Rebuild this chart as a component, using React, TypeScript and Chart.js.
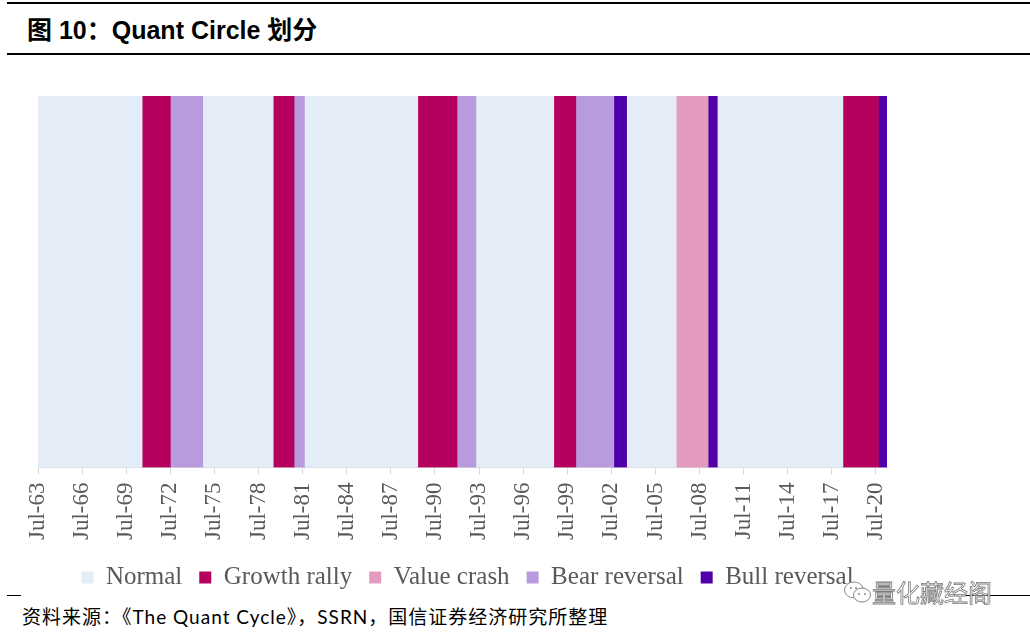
import React, { useEffect, useRef } from "react";
import { Chart, registerables } from "chart.js";

Chart.register(...registerables);

// ---- data ----
const startMonth = "1963-07";
const endMonth = "2021-03";
const monthNames = ["Jan", "Feb", "Mar", "Apr", "May", "Jun", "Jul", "Aug", "Sep", "Oct", "Nov", "Dec"];
const regimeNames = ["Normal", "Growth rally", "Value crash", "Bear reversal", "Bull reversal"];
const regimeColors = ["#E4ECF7", "#B5005E", "#E29BBF", "#B79BDC", "#5100A9"];
const growthRallyPeriods = [
  ["1970-08", "1972-06"],
  ["1979-07", "1980-11"],
  ["1989-05", "1991-12"],
  ["1998-08", "2000-01"],
  ["2018-04", "2020-08"],
];
const valueCrashPeriods = [["2006-12", "2009-01"]];
const bearReversalPeriods = [
  ["1972-07", "1974-09"],
  ["1980-12", "1981-08"],
  ["1992-01", "1993-04"],
  ["2000-02", "2002-08"],
];
const bullReversalPeriods = [
  ["2002-09", "2003-07"],
  ["2009-02", "2009-09"],
  ["2020-09", "2021-03"],
];
const tickLabels = [
  "Jul-63", "Jul-66", "Jul-69", "Jul-72", "Jul-75", "Jul-78", "Jul-81", "Jul-84", "Jul-87", "Jul-90",
  "Jul-93", "Jul-96", "Jul-99", "Jul-02", "Jul-05", "Jul-08", "Jul-11", "Jul-14", "Jul-17", "Jul-20",
];

// ---- helpers building the library tables ----
function parseYM(s: string) {
  const [y, m] = s.split("-").map(Number);
  return { y, m };
}
const start = parseYM(startMonth);
function monthIndex(s: string) {
  const { y, m } = parseYM(s);
  return (y - start.y) * 12 + (m - start.m);
}
function labelToIndex(label: string) {
  const [mon, yy] = label.split("-");
  const n = Number(yy);
  const year = n >= 50 ? 1900 + n : 2000 + n;
  return (year - start.y) * 12 + (monthNames.indexOf(mon) + 1 - start.m);
}
const monthCount = monthIndex(endMonth) + 1;
const tickValues = tickLabels.map(labelToIndex);

const specialPeriods = [growthRallyPeriods, valueCrashPeriods, bearReversalPeriods, bullReversalPeriods];

function toSpans(periods: string[][]) {
  return periods.map(([a, b]) => [monthIndex(a), monthIndex(b) + 1]);
}
function normalSpans() {
  const all = specialPeriods.flatMap(toSpans).sort((p, q) => p[0] - q[0]);
  const out: number[][] = [];
  let cur = 0;
  for (const [a, b] of all) {
    if (a > cur) out.push([cur, a]);
    cur = Math.max(cur, b);
  }
  if (cur < monthCount) out.push([cur, monthCount]);
  return out;
}

function buildDatasets() {
  const spans = [normalSpans(), ...specialPeriods.map(toSpans)];
  return spans.map((s, k) => ({
    label: regimeNames[k],
    data: s.map((span) => ({ x: span, y: "all" })),
    backgroundColor: regimeColors[k],
    borderColor: regimeColors[k],
    borderWidth: 0,
    grouped: false,
    barPercentage: 1,
    categoryPercentage: 1,
  }));
}

function RegimeChart() {
  const ref = useRef<HTMLCanvasElement | null>(null);
  useEffect(() => {
    if (!ref.current) return;
    const chart = new Chart(ref.current, {
      type: "bar",
      data: { labels: ["all"], datasets: buildDatasets() as any },
      options: {
        indexAxis: "y",
        animation: false,
        responsive: false,
        events: [],
        layout: { padding: { left: 38, right: 133, top: 36, bottom: 0 } },
        plugins: {
          tooltip: { enabled: false },
          legend: {
            position: "bottom",
            labels: {
              boxWidth: 12,
              boxHeight: 12,
              padding: 17,
              color: "#595959",
              font: { family: "'Liberation Serif', serif", size: 25 },
            },
          },
        },
        scales: {
          x: {
            type: "linear",
            min: 0,
            max: monthCount,
            grid: {
              drawOnChartArea: false,
              drawTicks: true,
              tickLength: 7,
              color: "#D9D9D9",
            },
            border: { color: "#D9D9D9", width: 1 },
            afterBuildTicks: (scale: any) => {
              scale.ticks = tickValues.map((v) => ({ value: v }));
            },
            ticks: {
              autoSkip: false,
              minRotation: 90,
              maxRotation: 90,
              padding: 8,
              color: "#595959",
              font: { family: "'Liberation Serif', serif", size: 23 },
              callback: (value: any) => {
                const i = tickValues.indexOf(Number(value));
                return i >= 0 ? tickLabels[i] : "";
              },
            },
          },
          y: { type: "category", display: false },
          y2: {
            type: "linear",
            position: "right",
            display: true,
            grid: { display: false },
            border: { display: false },
            ticks: { display: false },
            afterFit: (scale: any) => {
              scale.width = 10;
            },
          },
        },
      },
    });
    return () => chart.destroy();
  }, []);
  return (
    <canvas
      ref={ref}
      width={1030}
      height={540}
      style={{ position: "absolute", left: 0, top: 60, width: 1030, height: 540 }}
    />
  );
}

export default function App() {
  return (
    <div
      style={{
        position: "absolute",
        left: 0,
        top: 0,
        width: 1030,
        height: 636,
        background: "#fff",
        overflow: "hidden",
      }}
    >
      <div style={{ position: "absolute", left: 7, right: 0, top: 2, height: 1.5, background: "#000" }} />
      <div
        style={{
          position: "absolute",
          left: 27,
          top: 18,
          fontFamily: "'Liberation Sans', 'Noto Sans CJK SC', sans-serif",
          fontWeight: "bold",
          fontSize: 25,
          lineHeight: "25px",
          color: "#000",
          whiteSpace: "nowrap",
        }}
      >
        图 10：Quant Circle 划分
      </div>
      <div style={{ position: "absolute", left: 7, right: 0, top: 53, height: 1.5, background: "#000" }} />
      <RegimeChart />
      <div style={{ position: "absolute", left: 7, width: 14, top: 595, height: 1, background: "#000" }} />
      <div style={{ position: "absolute", left: 955, right: 0, top: 595, height: 1, background: "#000" }} />
      <svg
        width={30}
        height={26}
        viewBox="0 0 30 26"
        style={{ position: "absolute", left: 843, top: 580 }}
      >
        <ellipse cx={11} cy={10} rx={9.5} ry={8} fill="#fff" stroke="#888" strokeWidth={1} />
        <ellipse cx={19} cy={15} rx={8.5} ry={7} fill="#fff" stroke="#888" strokeWidth={1} />
        <circle cx={16} cy={14} r={1} fill="#888" />
        <circle cx={22} cy={14} r={1} fill="#888" />
        <circle cx={8} cy={8} r={1} fill="#888" />
        <circle cx={13} cy={8} r={1} fill="#888" />
      </svg>
      <div
        style={{
          position: "absolute",
          left: 872,
          top: 578,
          fontFamily: "'Noto Sans CJK SC', sans-serif",
          fontSize: 24,
          lineHeight: "28px",
          color: "#fff",
          WebkitTextStroke: "0.8px #777",
          whiteSpace: "nowrap",
        }}
      >
        量化藏经阁
      </div>
      <div
        style={{
          position: "absolute",
          left: 22,
          top: 605,
          fontFamily: "Lato, 'Noto Sans CJK SC', sans-serif",
          fontSize: 19,
          lineHeight: "24px",
          letterSpacing: 1,
          color: "#000",
          whiteSpace: "nowrap",
        }}
      >
        资料来源：《The Quant Cycle》，SSRN，国信证券经济研究所整理
      </div>
    </div>
  );
}
